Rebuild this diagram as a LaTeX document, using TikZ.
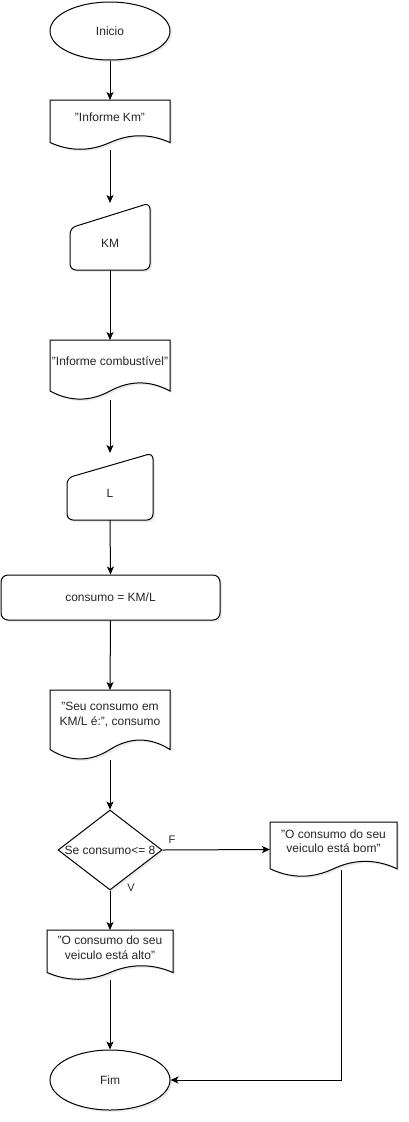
\documentclass[tikz,border=0pt]{standalone}
\usepackage{fontspec}
\setmainfont{Liberation Sans}
\usetikzlibrary{arrows.meta,shapes.geometric,calc,shadows}
\newcommand\qt{\char34\relax}
\tikzset{
  shapeline/.style={draw=black, line width=1pt, fill=white,
    drop shadow={opacity=0.16, shadow xshift=2pt, shadow yshift=-2pt}},
  box/.style={inner sep=0pt, outer sep=0pt, draw=none},
  txt/.style={font=\fontsize{12}{14.5}\selectfont, align=center, inner sep=0pt, text=black!85},
  term/.style={shapeline, ellipse, minimum width=120pt, inner sep=0pt,
    font=\fontsize{12}{14.5}\selectfont, text=black!85},
  flow/.style={line width=1pt, draw=black, -{Stealth[length=8pt,width=7pt,inset=2pt]}},
  edgelabel/.style={font=\fontsize{11}{13}\selectfont, fill=white, inner sep=1pt, text=black!85},
}
% document shape: name, center x, top y, width, height, text
\newcommand\docnode[6]{%
  \node[box, minimum width=#4pt, minimum height=#5pt, anchor=north] (#1) at (#2,#3) {};
  \draw[shapeline] let \p1=(#1.north west), \p2=(#1.south east), \n1={\y1-\y2}, \n2={\x2-\x1} in
    (\p1) -- (\x2,\y1) -- (\x2,{\y2+0.15*\n1})
    .. controls ({\x2-\n2/6},{\y2+0.33*\n1}) and ({\x1+2*\n2/3},{\y2+0.33*\n1}) .. ({\x1+\n2/2},{\y2+0.15*\n1})
    .. controls ({\x1+\n2/3},{\y2-0.03*\n1}) and ({\x1+\n2/6},{\y2-0.03*\n1}) .. (\x1,{\y2+0.15*\n1}) -- cycle;
  \node[txt] (#1-t) at ([yshift=0.15*#5pt]#1.center) {#6};
}
% manual input shape: name, center x, top y, width, height, text
\newcommand\maninput[6]{%
  \node[box, minimum width=#4pt, minimum height=#5pt, anchor=north] (#1) at (#2,#3) {};
  \draw[shapeline, rounded corners=6pt] ([yshift=-25pt]#1.north west) -- (#1.north east)
    -- (#1.south east) -- (#1.south west) -- cycle;
  \node[txt] (#1-t) at ([yshift=-6.5pt]#1.center) {#6};
}
\begin{document}
\begin{tikzpicture}[x=1pt, y=-1pt]
\useasboundingbox (0,0) rectangle (408,1122);

\node[term, minimum height=58pt] (start) at (110,31) {Inicio};
\docnode{d1}{110}{100}{120}{50}{\qt Informe Km\qt}
\maninput{km}{110}{203}{80}{67}{KM}
\docnode{d2}{110}{340}{120}{60}{\qt Informe combustível\qt}
\maninput{l}{110}{453}{86}{67}{L}
\node[shapeline, rounded corners=7pt, minimum width=219pt, minimum height=45pt, inner sep=0pt,
  font=\fontsize{12}{14.5}\selectfont, text=black!85] (calc) at (110.5,597.5) {consumo = KM/L};
\docnode{d3}{110}{690}{120}{70}{\qt Seu consumo em\\KM/L é:\qt, consumo}
\node[shapeline, diamond, minimum width=104pt, minimum height=80pt, inner sep=0pt, aspect=1.3] (dia) at (110,850) {};
\node[txt] (dia-t) at (110,850) {Se consumo<= 8};
\docnode{bom}{333.5}{822}{127}{55}{\qt O consumo do seu\\veiculo está bom\qt}
\docnode{alto}{110}{930}{126}{50}{\qt O consumo do seu\\veiculo está alto\qt}
\node[term, minimum height=60pt] (end) at (110,1080) {Fim};

\draw[flow] (start.south) -- (d1.north);
\draw[flow] (d1.south) -- (km.north);
\draw[flow] (km.south) -- (d2.north);
\draw[flow] (d2.south) -- (l.north);
\draw[flow] (l.south) -- (calc.north);
\draw[flow] (calc.south) -- (d3.north);
\draw[flow] (d3.south) -- (dia.north);
\draw[flow] (dia.south) -- (alto.north);
\draw[flow] (dia.east) -- (bom.west);
\draw[flow] (alto.south) -- (end.north);
\coordinate (bomout) at ([xshift=7.5pt, yshift=7pt]bom.south);
\draw[flow] (bomout) |- (end.east);

\node[edgelabel] (lf) at (172,840) {F};
\node[edgelabel] (lv) at (131,888) {V};
\end{tikzpicture}
\end{document}
